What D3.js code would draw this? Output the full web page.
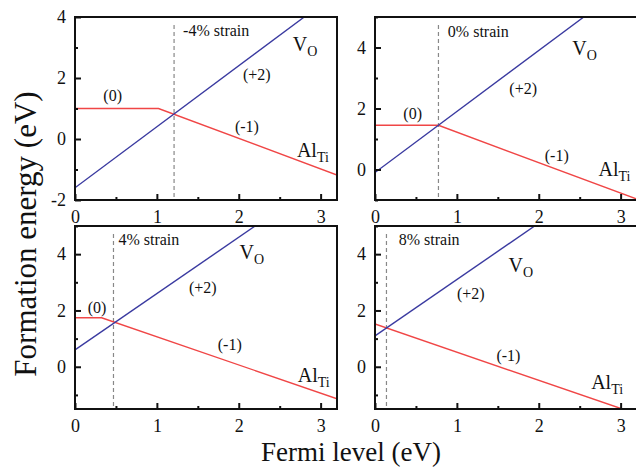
<!DOCTYPE html>
<html>
<head>
  <meta charset="utf-8">
  <script src="https://d3js.org/d3.v7.min.js"></script>
  <style>
    body { margin: 0; background: #fff; }
    svg { display: block; }
    svg text { font-family: "Liberation Serif", "DejaVu Serif", serif; fill: #111; }
    .tick-label { font-size: 18px; }
    .ann { font-size: 16px; }
    .species { font-size: 20px; }
    .axis-title { font-size: 27px; }
  </style>
</head>
<body>
  <svg id="chart" width="636" height="468"></svg>
  <script>
    // Panel order: top-left, top-right, bottom-left, bottom-right
    const strains = ["-4% strain", "0% strain", "4% strain", "8% strain"];
    const yDomains = [[-2, 4], [-1, 5], [-1.5, 5], [-1.5, 5]];
    const yTicks = [[-2, 0, 2, 4], [0, 2, 4], [0, 2, 4], [0, 2, 4]];
    const xTicks = [0, 1, 2, 3];

    // V_O (+2) line endpoints [Fermi level, energy]
    const vO = [
      [[0, -1.6], [2.8, 4.0]],
      [[0, -0.1], [2.55, 5.0]],
      [[0, 0.6], [2.2, 5.0]],
      [[0, 1.1], [1.95, 5.0]]
    ];
    // Al_Ti: (0) flat, then (-1)
    const alTi = [
      [[0, 1.0], [1.02, 1.0], [3.2, -1.18]],
      [[0, 1.45], [0.775, 1.45], [3.2, -0.975]],
      [[0, 1.74], [0.325, 1.74], [3.2, -1.135]],
      [[0, 1.52], [3.02, -1.5]]
    ];
    // transition level (dashed line)
    const crossX = [1.21, 0.775, 0.47, 0.14];

    // annotation anchor points in data units
    const strainPos = [[1.32, 3.37], [0.89, 4.35], [0.53, 4.32], [0.29, 4.32]];
    const vOPos = [[2.66, 2.88], [2.41, 3.77], [2.01, 3.84], [1.63, 3.36]];
    const plus2Pos = [[2.22, 1.92], [1.81, 2.47], [1.56, 2.61], [1.17, 2.4]];
    const zeroPos = [[0.46, 1.26], [0.46, 1.65], [0.27, 1.92], null];
    const minus1Pos = [[2.1, 0.24], [2.22, 0.29], [1.89, 0.58], [1.63, 0.22]];
    const alPos = [[2.71, -0.58], [2.73, -0.2], [2.72, -0.54], [2.64, -0.78]];

    const svg = d3.select("#chart");
    const panelW = 262, panelH = 183;
    const origins = [[75, 17], [375, 17], [75, 226], [375, 226]];
    const blue = "#3a3aa0", red = "#f04646";
    const fmt = d => String(d);

    strains.forEach((label, i) => {
      const [ox, oy] = origins[i];
      const g = svg.append("g").attr("transform", `translate(${ox},${oy})`);
      const x = d3.scaleLinear().domain([0, 3.2]).range([0, panelW]);
      const y = d3.scaleLinear().domain(yDomains[i]).range([panelH, 0]);
      const line = d3.line().x(d => x(d[0])).y(d => y(d[1]));

      const clipId = "clip" + i;
      g.append("clipPath").attr("id", clipId)
        .append("rect").attr("width", panelW).attr("height", panelH);

      // dashed transition line
      g.append("line")
        .attr("x1", x(crossX[i])).attr("x2", x(crossX[i]))
        .attr("y1", 8).attr("y2", panelH)
        .attr("stroke", "#888").attr("stroke-width", 1.2)
        .attr("stroke-dasharray", "4,3");

      const data = g.append("g").attr("clip-path", `url(#${clipId})`);
      data.append("path").attr("d", line(alTi[i]))
        .attr("fill", "none").attr("stroke", red).attr("stroke-width", 1.4);
      data.append("path").attr("d", line(vO[i]))
        .attr("fill", "none").attr("stroke", blue).attr("stroke-width", 1.4);

      // x axis ticks (inward)
      const xMinor = d3.range(0.5, 3.2, 1);
      g.append("g").attr("transform", `translate(0,${panelH})`)
        .call(d3.axisBottom(x).tickValues(xTicks).tickSize(-6).tickPadding(10).tickFormat(fmt));
      g.append("g").attr("transform", `translate(0,${panelH})`)
        .call(d3.axisBottom(x).tickValues(xMinor).tickSize(-3).tickFormat(""));

      // y axis ticks (inward)
      const [y0, y1] = yDomains[i];
      const yMinor = d3.range(Math.ceil(y0), y1 + 0.01, 1).filter(v => !yTicks[i].includes(v));
      g.append("g")
        .call(d3.axisLeft(y).tickValues(yTicks[i]).tickSize(-6).tickPadding(9).tickFormat(fmt));
      g.append("g")
        .call(d3.axisLeft(y).tickValues(yMinor).tickSize(-3).tickFormat(""));

      g.selectAll(".domain").remove();
      g.selectAll("g").attr("font-family", null).attr("font-size", null);
      g.selectAll(".tick line").attr("stroke", "#111").attr("stroke-width", 2);
      g.selectAll(".tick text").attr("class", "tick-label").attr("fill", null);

      // frame
      g.append("rect").attr("width", panelW).attr("height", panelH)
        .attr("fill", "none").attr("stroke", "#111").attr("stroke-width", 2);

      // annotations
      g.append("text").attr("class", "ann")
        .attr("x", x(strainPos[i][0])).attr("y", y(strainPos[i][1])).text(label);

      const vt = g.append("text").attr("class", "species")
        .attr("x", x(vOPos[i][0])).attr("y", y(vOPos[i][1]));
      vt.append("tspan").text("V");
      vt.append("tspan").attr("dy", 5).attr("font-size", 14).text("O");

      const at = g.append("text").attr("class", "species")
        .attr("x", x(alPos[i][0])).attr("y", y(alPos[i][1]));
      at.append("tspan").text("Al");
      at.append("tspan").attr("dy", 5).attr("font-size", 14).text("Ti");

      g.append("text").attr("class", "ann").attr("text-anchor", "middle")
        .attr("x", x(plus2Pos[i][0])).attr("y", y(plus2Pos[i][1])).text("(+2)");
      g.append("text").attr("class", "ann").attr("text-anchor", "middle")
        .attr("x", x(minus1Pos[i][0])).attr("y", y(minus1Pos[i][1])).text("(-1)");
      if (zeroPos[i]) {
        g.append("text").attr("class", "ann").attr("text-anchor", "middle")
          .attr("x", x(zeroPos[i][0])).attr("y", y(zeroPos[i][1])).text("(0)");
      }
    });

    // axis titles
    svg.append("text").attr("class", "axis-title")
      .attr("text-anchor", "middle")
      .style("font-size", "31px")
      .attr("transform", "translate(36,234) rotate(-90)")
      .text("Formation energy (eV)");
    svg.append("text").attr("class", "axis-title")
      .attr("text-anchor", "middle")
      .attr("x", 351).attr("y", 461)
      .text("Fermi level (eV)");
  </script>
</body>
</html>
